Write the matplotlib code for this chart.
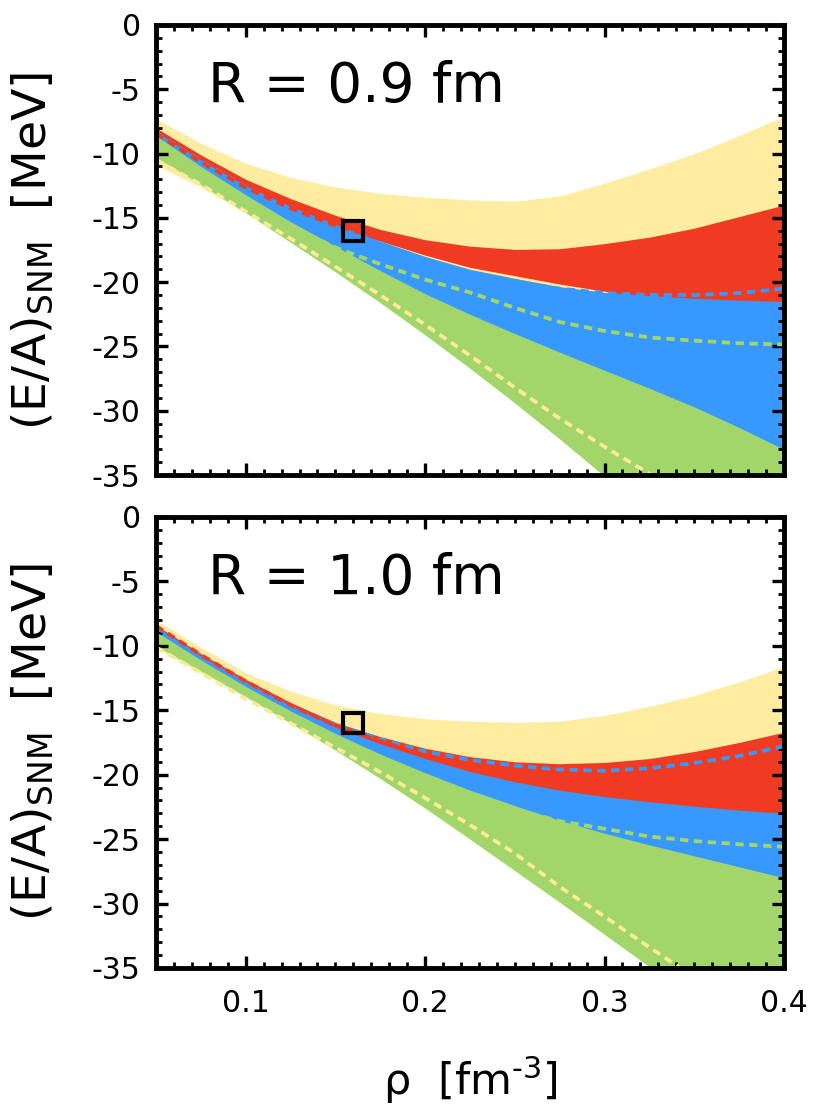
import numpy as np
import matplotlib
matplotlib.use('Agg')
import matplotlib.pyplot as plt
from matplotlib.ticker import MultipleLocator, FixedLocator

plt.rcParams['font.family'] = ['DejaVu Sans']
plt.rcParams['axes.unicode_minus'] = False
plt.rcParams['mathtext.default'] = 'regular'

# density grid [fm^-3]
rho = [0.05, 0.075, 0.1, 0.125, 0.15, 0.175, 0.2, 0.225, 0.25, 0.275,
       0.3, 0.325, 0.35, 0.375, 0.4]

# ---------------- R = 0.9 fm ----------------
r09_yel_hi = [-7.3, -9.2, -10.75, -11.85, -12.6, -13.1, -13.4, -13.6, -13.7,
              -13.3, -12.3, -11.2, -10.0, -8.6, -7.1]
r09_yel_lo = [-10.9, -12.6, -14.6, -16.5, -18.3, -20.0, -21.5, -23.0, -24.5,
              -26.0, -27.5, -29.0, -30.5, -32.0, -33.5]
r09_red_hi = [-8.0, -10.1, -12.0, -13.5, -14.8, -15.9, -16.7, -17.2, -17.45,
              -17.4, -17.0, -16.5, -15.8, -14.9, -14.0]
r09_red_lo = [-8.6, -10.8, -12.8, -14.4, -15.8, -16.8, -17.9, -18.85, -19.5,
              -20.15, -20.7, -21.4, -21.6, -21.7, -21.8]
r09_blu_hi = [-8.3, -10.5, -12.5, -14.1, -15.5, -16.8, -18.0, -19.0, -19.7,
              -20.35, -20.8, -21.05, -21.25, -21.4, -21.5]
r09_blu_lo = [-9.4, -12.0, -14.2, -16.3, -18.1, -19.7, -21.4, -23.1, -24.8,
              -26.4, -27.6, -28.9, -30.3, -31.9, -33.8]
r09_grn_hi = [-8.6, -11.0, -13.2, -15.3, -17.2, -19.1, -20.9, -22.5, -24.0,
              -25.45, -26.85, -28.25, -29.7, -31.3, -33.0]
r09_grn_lo = [-10.3, -12.4, -14.6, -16.9, -19.2, -21.6, -24.1, -26.7, -29.4,
              -32.2, -35.1, -38.1, -41.2, -44.4, -47.7]
r09_red_dash = [-8.45, -10.65, -12.65, -14.25, -15.6, -16.6, -17.3, -17.9, -18.3,
                -18.6, -18.8, -18.9, -18.9, -18.8, -18.6]
r09_blu_dash = [-8.4, -10.6, -12.6, -14.4, -15.9, -17.2, -18.4, -19.3, -20.0,
                -20.5, -20.85, -21.0, -21.0, -20.85, -20.5]
r09_grn_dash = [-8.8, -11.3, -13.5, -15.6, -17.3, -18.6, -19.8, -20.8, -22.0,
                -23.1, -23.8, -24.3, -24.55, -24.75, -24.85]
r09_yel_dash = [-10.5, -12.4, -14.5, -16.6, -18.8, -21.0, -23.3, -25.7, -28.2,
                -30.6, -32.8, -34.9, -37.0, -39.1, -41.2]

# ---------------- R = 1.0 fm ----------------
r10_yel_hi = [-8.0, -10.1, -12.1, -13.5, -14.6, -15.25, -15.65, -15.85, -15.95,
              -15.85, -15.4, -14.7, -13.85, -12.8, -11.6]
r10_yel_lo = [-10.2, -12.1, -13.9, -15.8, -17.5, -19.2, -20.8, -22.3, -23.6,
              -24.8, -25.8, -26.7, -27.5, -28.3, -29.2]
r10_red_hi = [-8.4, -10.6, -12.6, -14.4, -15.95, -17.05, -17.95, -18.6, -19.0,
              -19.15, -19.05, -18.75, -18.2, -17.5, -16.7]
r10_red_lo = [-9.0, -11.25, -13.3, -15.15, -16.8, -18.1, -19.25, -20.25, -21.05,
              -21.8, -22.25, -22.6, -22.95, -23.25, -23.5]
r10_blu_hi = [-8.5, -10.75, -12.8, -14.65, -16.3, -17.6, -18.75, -19.75, -20.55,
              -21.2, -21.7, -22.1, -22.45, -22.75, -23.0]
r10_blu_lo = [-9.4, -11.6, -13.7, -15.6, -17.3, -18.8, -20.2, -21.5, -22.6,
              -23.8, -24.75, -25.65, -26.5, -27.45, -28.45]
r10_grn_hi = [-8.9, -11.1, -13.15, -15.05, -16.8, -18.4, -19.85, -21.2, -22.4,
              -23.55, -24.55, -25.45, -26.3, -27.15, -28.0]
r10_grn_lo = [-10.0, -11.95, -13.95, -16.0, -18.1, -20.3, -22.6, -25.0, -27.45,
              -29.9, -32.4, -34.9, -37.4, -39.9, -42.4]
r10_red_dash = [-8.45, -10.7, -12.75, -14.6, -16.2, -17.4, -18.5, -19.4, -20.1,
                -20.6, -20.9, -21.0, -20.9, -20.7, -20.4]
r10_blu_dash = [-8.55, -10.8, -12.8, -14.6, -16.1, -17.25, -18.2, -18.85, -19.3,
                -19.6, -19.7, -19.5, -19.1, -18.55, -17.8]
r10_grn_dash = [-9.1, -11.35, -13.4, -15.35, -17.1, -18.75, -20.2, -21.5, -22.7,
                -23.6, -24.2, -24.8, -25.15, -25.4, -25.6]
r10_yel_dash = [-10.1, -12.1, -14.1, -16.0, -17.9, -19.8, -21.8, -23.9, -26.1,
                -28.7, -31.0, -33.4, -35.7, -38.0, -40.3]

# empirical saturation point
sat_rho = [0.16]
sat_e = [-16.0]

panel_titles = ['R = 0.9 fm', 'R = 1.0 fm']
x_ticks = [0.1, 0.2, 0.3, 0.4]

C_YEL = '#FEEDA0'
C_RED = '#EF3B22'
C_BLU = '#3799FE'
C_GRN = '#A2D66A'
C_YEL_D = '#FDE99A'

panels = [
    dict(yel=(r09_yel_hi, r09_yel_lo), red=(r09_red_hi, r09_red_lo),
         blu=(r09_blu_hi, r09_blu_lo), grn=(r09_grn_hi, r09_grn_lo),
         dashes=[(r09_yel_dash, C_YEL_D), (r09_grn_dash, C_GRN),
                 (r09_blu_dash, C_BLU), (r09_red_dash, C_RED)]),
    dict(yel=(r10_yel_hi, r10_yel_lo), red=(r10_red_hi, r10_red_lo),
         blu=(r10_blu_hi, r10_blu_lo), grn=(r10_grn_hi, r10_grn_lo),
         dashes=[(r10_yel_dash, C_YEL_D), (r10_grn_dash, C_GRN),
                 (r10_blu_dash, C_BLU), (r10_red_dash, C_RED)]),
]

fig = plt.figure(figsize=(8.14, 11.06), dpi=100)
ax_top = fig.add_axes([0.1916, 0.5705, 0.7715, 0.4069])
ax_bot = fig.add_axes([0.1916, 0.1248, 0.7715, 0.4078])
axes = [ax_top, ax_bot]

for i, (ax, p) in enumerate(zip(axes, panels)):
    for key, col in (('yel', C_YEL), ('red', C_RED), ('blu', C_BLU), ('grn', C_GRN)):
        hi, lo = p[key]
        ax.fill_between(rho, lo, hi, color=col, lw=0, zorder=1)
    for yv, col in p['dashes']:
        ax.plot(rho, yv, color=col, lw=2.7, dashes=(2.2, 1.5), zorder=3)
    ax.plot(sat_rho, sat_e, marker='s', ms=14.5, mfc='none', mec='black',
            mew=3.0, ls='none', zorder=5)

    ax.set_xlim(0.05, 0.4)
    ax.set_ylim(-35, 0)
    ax.xaxis.set_major_locator(FixedLocator(x_ticks))
    ax.xaxis.set_minor_locator(MultipleLocator(0.01))
    ax.yaxis.set_major_locator(MultipleLocator(5))
    ax.yaxis.set_minor_locator(MultipleLocator(1))
    ax.tick_params(which='both', direction='in', top=True, right=True,
                   labelsize=21.5, color='black')
    ax.tick_params(which='major', length=8.5, width=2.4)
    ax.tick_params(which='minor', length=4.5, width=2.0)
    ax.tick_params(axis='y', pad=11)
    ax.tick_params(axis='x', pad=15)
    for sp in ax.spines.values():
        sp.set_linewidth(3.5)
        sp.set_zorder(10)
    ax.text(0.083, 0.83, panel_titles[i], transform=ax.transAxes,
            fontsize=39.5, va='baseline', ha='left')

ax_top.tick_params(axis='x', labelbottom=False)

ylab = '(E/A)$_{SNM}$  [MeV]'
fig.text(33 / 814, 1 - 251 / 1106, ylab, rotation=90, ha='center',
         va='center', fontsize=34)
fig.text(33 / 814, 1 - 742 / 1106, ylab, rotation=90, ha='center',
         va='center', fontsize=34)
fig.text(470 / 814, 1 - 1080 / 1106, r'ρ  [fm$^{\text{-3}}$]', ha='center',
         va='center', fontsize=31)

fig.savefig('out.png', dpi=100)
